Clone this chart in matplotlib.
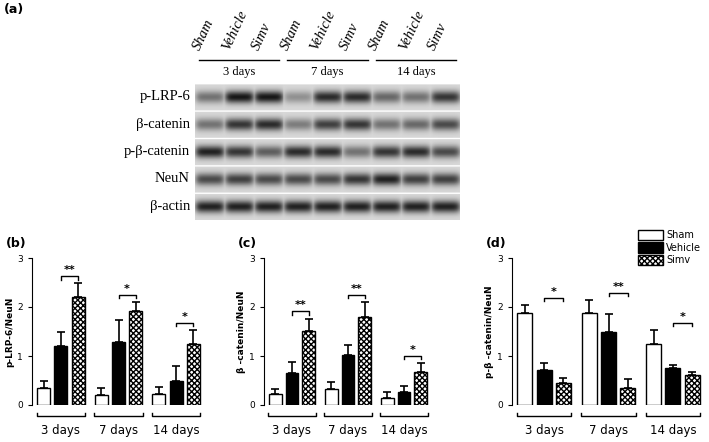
import numpy as np
import matplotlib
matplotlib.use("Agg")
import matplotlib.pyplot as plt

W, H = 709, 442
days = ["3 days", "7 days", "14 days"]
groups = ["Sham", "Vehicle", "Simv"]
lanes = ["Sham", "Vehicle", "Simv"] * 3
blot_rows = ["p-LRP-6", "β-catenin", "p-β-catenin", "NeuN", "β-actin"]
band_p_lrp6 = [0.5, 0.95, 0.95, 0.35, 0.85, 0.85, 0.55, 0.5, 0.8]
band_bcat = [0.5, 0.8, 0.85, 0.45, 0.75, 0.8, 0.5, 0.55, 0.7]
band_pbcat = [0.9, 0.8, 0.6, 0.85, 0.85, 0.5, 0.8, 0.85, 0.7]
band_neun = [0.7, 0.75, 0.7, 0.7, 0.7, 0.8, 0.9, 0.75, 0.75]
band_actin = [0.9, 0.9, 0.9, 0.9, 0.9, 0.9, 0.9, 0.9, 0.9]

b_mean = {"Sham": [0.35, 0.2, 0.22], "Vehicle": [1.2, 1.28, 0.5], "Simv": [2.2, 1.92, 1.25]}
b_err = {"Sham": [0.13, 0.15, 0.15], "Vehicle": [0.3, 0.46, 0.29], "Simv": [0.28, 0.18, 0.28]}
c_mean = {"Sham": [0.22, 0.32, 0.15], "Vehicle": [0.65, 1.02, 0.27], "Simv": [1.52, 1.8, 0.67]}
c_err = {"Sham": [0.1, 0.15, 0.11], "Vehicle": [0.22, 0.21, 0.11], "Simv": [0.24, 0.3, 0.18]}
d_mean = {"Sham": [1.87, 1.87, 1.25], "Vehicle": [0.72, 1.5, 0.75], "Simv": [0.45, 0.35, 0.62]}
d_err = {"Sham": [0.17, 0.27, 0.28], "Vehicle": [0.14, 0.35, 0.07], "Simv": [0.1, 0.18, 0.06]}
b_sig = ["**", "*", "*"]
c_sig = ["**", "**", "*"]
d_sig = ["*", "**", "*"]

fig = plt.figure(figsize=(W/100, H/100), dpi=100)
def ax_px(x0, y0, x1, y1):
    return fig.add_axes([x0/W, 1-y1/H, (x1-x0)/W, (y1-y0)/H])

fig.text(4/W, 1-10/H, "(a)", fontsize=9, fontweight="bold", va="center")

# blot
bands = [band_p_lrp6, band_bcat, band_pbcat, band_neun, band_actin]
bax = ax_px(195, 83, 460, 220)
nr, nl = len(bands), 9
img = np.ones((nr*40, nl*40))
yy = np.arange(40)[:, None]
xx = np.arange(40)[None, :]
for r, row in enumerate(bands):
    for l, v in enumerate(row):
        prof = np.exp(-((yy-20)/9.0)**2) * np.exp(-((xx-20)/20.0)**6)
        img[r*40:(r+1)*40, l*40:(l+1)*40] = 0.85 - 0.8*v*prof
    img[r*40:r*40+2, :] = 1.0
bax.imshow(img, cmap="gray", vmin=0, vmax=1, aspect="auto", extent=(0, nl, nr, 0))
bax.axis("off")
for r, name in enumerate(blot_rows):
    fig.text(190/W, 1-(83+(r+0.5)*137/nr)/H, name, fontsize=10.5, family="Liberation Serif",
             ha="right", va="center")
lane_w = 265/9
for l, name in enumerate(lanes):
    fig.text((195+(l+0.25)*lane_w)/W, 1-52/H, name, fontsize=10.5, family="Liberation Serif",
             style="italic", rotation=65, ha="left", va="bottom", rotation_mode="anchor")
for g, d in enumerate(days):
    x0 = 195 + g*3*lane_w + 4
    x1 = 195 + (g+1)*3*lane_w - 4
    fig.add_artist(plt.Line2D([x0/W, x1/W], [1-60/H]*2, color="black", lw=1))
    fig.text((x0+x1)/2/W, 1-72/H, d, fontsize=9, family="Liberation Serif", ha="center", va="center")

colors = {"Sham": "white", "Vehicle": "black", "Simv": "white"}
hatches = {"Sham": None, "Vehicle": None, "Simv": "xxxxxx"}
bw = 0.23
offs = [-0.3, 0, 0.3]

def panel(rect, mean, err, sig, ylabel, letter):
    ax = ax_px(*rect)
    x = np.arange(3)
    for gi, g in enumerate(groups):
        ax.bar(x+offs[gi], mean[g], bw, yerr=[np.zeros(3), err[g]], color=colors[g],
               edgecolor="black", hatch=hatches[g], lw=1, capsize=3,
               error_kw=dict(lw=1.2, capthick=1.2), label=g)
    for i in range(3):
        top = max(mean[g][i]+err[g][i] for g in groups)
        yb = top + 0.15
        xa, xb = i+offs[1], i+offs[2]
        ax.plot([xa, xa, xb, xb], [yb-0.07, yb, yb, yb-0.07], color="black", lw=1)
        ax.text((xa+xb)/2, yb+0.02, sig[i], ha="center", va="bottom", fontsize=8, fontweight="bold")
        ax.plot([i-0.42, i-0.42, i+0.42, i+0.42], [-0.16, -0.22, -0.22, -0.16], color="black",
                lw=1, clip_on=False)
        ax.text(i, -0.38, days[i], ha="center", va="top", fontsize=8.5)
    ax.set_ylim(0, 3)
    ax.set_xlim(-0.5, 2.5)
    ax.set_yticks([0, 1, 2, 3])
    ax.tick_params(axis="y", labelsize=6.5, length=3)
    ax.set_xticks([])
    for s in ["top", "right", "bottom"]:
        ax.spines[s].set_visible(False)
    ax.set_ylabel(ylabel, fontsize=6.5, fontweight="bold", labelpad=2)
    fig.text((rect[0]-26)/W, 1-(rect[1]-15)/H, letter, fontsize=9, fontweight="bold", va="center")
    return ax

panel((32, 258, 205, 405), b_mean, b_err, b_sig, "p-LRP-6/NeuN", "(b)")
panel((264, 258, 432, 405), c_mean, c_err, c_sig, "β -catenin/NeuN", "(c)")
axd = panel((512, 258, 705, 405), d_mean, d_err, d_sig, "p-β -catenin/NeuN", "(d)")
axd.legend(loc="upper right", bbox_to_anchor=(1.0, 1.22), frameon=False, fontsize=7,
           handlelength=2.6, handleheight=1.3, borderaxespad=0, labelspacing=0.2, handletextpad=0.3)

fig.savefig("out.png", dpi=100)
